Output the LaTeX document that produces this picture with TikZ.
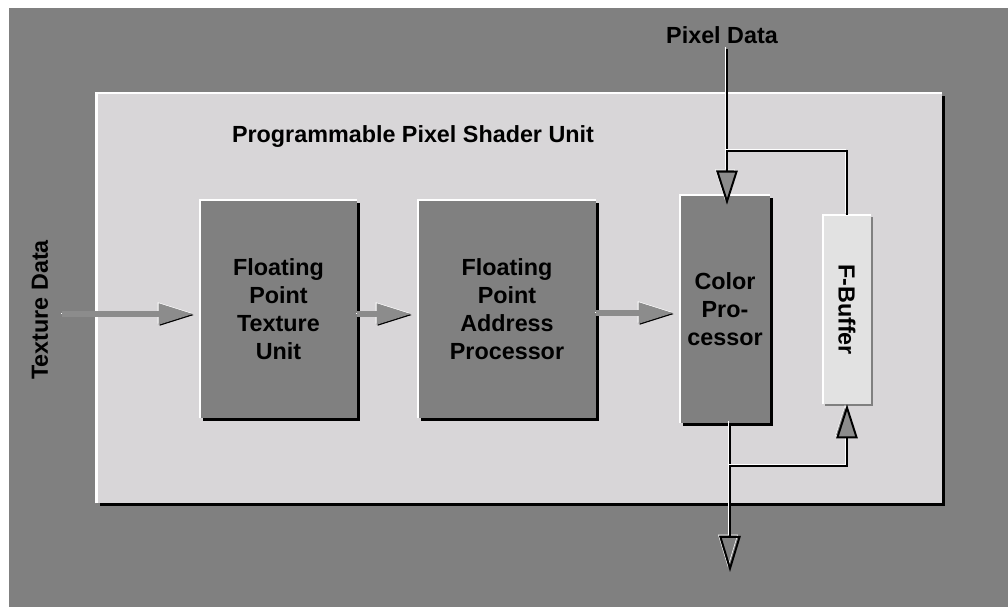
\documentclass[tikz,border=0pt]{standalone}
\usepackage{fontspec}
\setmainfont{Liberation Sans}
\usepackage{tikz}
\usetikzlibrary{arrows.meta,positioning,calc,shadows}

\definecolor{bggray}{RGB}{128,128,128}
\definecolor{panelgray}{RGB}{216,214,216}
\definecolor{flowgray}{RGB}{140,140,140}
\definecolor{buffergray}{RGB}{226,226,226}

\begin{document}
\begin{tikzpicture}[
    x=0.025cm, y=-0.025cm,
    font=\fontsize{16.6}{20}\selectfont\bfseries,
    panel/.style={rectangle, fill=panelgray, minimum width=21.125cm, minimum height=10.25cm,
        drop shadow={fill=black, opacity=1, shadow xshift=2.2pt, shadow yshift=-2.2pt}},
    unit/.style={rectangle, fill=bggray, minimum height=5.45cm, align=center, inner sep=0pt,
        drop shadow={fill=black, opacity=1, shadow xshift=2pt, shadow yshift=-2pt}},
    buffer/.style={rectangle, fill=buffergray, minimum width=1.2cm, minimum height=4.725cm, inner sep=0pt,
        drop shadow={fill=gray, opacity=1, shadow xshift=1.4pt, shadow yshift=-1.4pt}},
    hilite/.style={draw=white, line width=1.6pt},
    flow/.style={draw=flowgray, line width=4.4pt, shorten >=0.175cm,
        -{Triangle[length=0.85cm, width=0.53cm, line width=0.6pt]},
        preaction={draw=black, transform canvas={shift={(0.7pt,-0.7pt)}}},
        preaction={draw=white, transform canvas={shift={(-0.7pt,0.7pt)}}}},
    wire/.style={draw=black, line width=1.4pt,
        preaction={draw=white, transform canvas={shift={(-1.4pt,1.4pt)}}}},
    inhead/.style={-{Triangle[length=0.85cm, width=0.53cm, fill=flowgray]}},
    outhead/.style={-{Triangle[open, length=0.9cm, width=0.53cm]}}
]

% Background
\fill[white] (0,0) rectangle (1008,607);
\fill[bggray] (9,8) rectangle (1008,607);
\useasboundingbox (0,0) rectangle (1008,607);

% Shader unit frame
\node[panel] (panel) at (519.5,298) {};
\node (title) at (413,137) {Programmable Pixel Shader Unit};

% Units
\node[unit, minimum width=3.925cm] (ftu) at (278.5,309) {Floating\\Point\\Texture\\Unit};
\node[unit, minimum width=4.45cm] (fpap) at (507,309) {Floating\\Point\\Address\\Processor};
\node[unit, minimum width=2.25cm, minimum height=5.7cm] (cproc) at (725,309) {Color\\Pro-\\cessor};
\node[buffer] (fbuf) at (847,309.5) {};
\node[rotate=-90] (fbuflabel) at (fbuf) {F-Buffer};

\foreach \n in {panel,ftu,fpap,cproc,fbuf}
    \draw[hilite] (\n.south west) |- (\n.north east);

% Inputs and outputs
\node[rotate=90] (texlabel) at (40,310) {Texture Data};
\node (pixlabel) at (722,35) {Pixel Data};
\coordinate (texin) at (62,314);
\coordinate (feedin) at (727,151);
\coordinate (split) at (730,466);
\coordinate (pixout) at (730,572);

% Arrows
\draw[flow] (texin) -- (texin -| ftu.west);
\draw[flow] ([yshift=-0.125cm]ftu.east) -- ([yshift=-0.125cm]fpap.west);
\draw[flow] ([yshift=-0.1cm]fpap.east) -- ([yshift=-0.1cm]cproc.west);
\draw[wire, inhead, shorten >=-0.25cm] (pixlabel.south -| feedin) -- (cproc.north -| feedin);
\draw[wire] (fbuf.north) |- (feedin);
\draw[wire, outhead] (cproc.south -| split) -- (pixout);
\draw[wire, inhead] (split) -| (fbuf.south);

\end{tikzpicture}
\end{document}
